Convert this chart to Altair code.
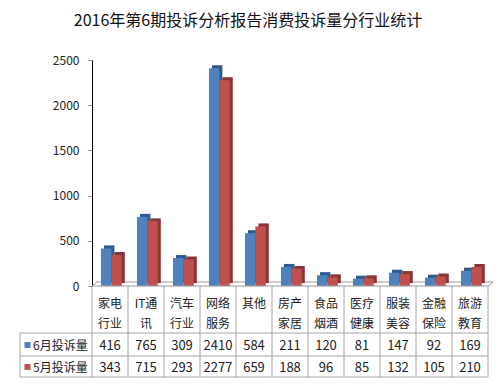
import altair as alt
import pandas as pd

categories = ["家电行业", "IT通讯", "汽车行业", "网络服务", "其他", "房产家居",
              "食品烟酒", "医疗健康", "服装美容", "金融保险", "旅游教育"]
cat_labels = ["家电\n行业", "IT通\n讯", "汽车\n行业", "网络\n服务", "其他", "房产\n家居",
              "食品\n烟酒", "医疗\n健康", "服装\n美容", "金融\n保险", "旅游\n教育"]
series = ["6月投诉量", "5月投诉量"]
june = [416, 765, 309, 2410, 584, 211, 120, 81, 147, 92, 169]
may = [343, 715, 293, 2277, 659, 188, 96, 85, 132, 105, 210]
y_ticks = [0, 500, 1000, 1500, 2000, 2500]
colors = ["#4F81BD", "#C0504D"]
shades = ["#2F5A8E", "#8A3533"]
title_text = "2016年第6期投诉分析报告消费投诉量分行业统计"

rows = []
for i, c in enumerate(categories):
    for s, vals, col, sh in zip(series, [june, may], colors, shades):
        rows.append({"cat": c, "series": s, "value": vals[i], "color": col, "shade": sh})
df = pd.DataFrame(rows)
cat_df = pd.DataFrame({"cat": categories, "label": cat_labels})
ser_df = pd.DataFrame({"series": series, "color": colors})

W, H = 396, 226
FONT = "Noto Sans CJK SC"
CAT_Y = 244
ROW_Y = [286, 308]
LINE_Y = [273, 296, 317]
LEFT = -72
GRID = "#A6A6A6"

x = alt.X("cat:N", sort=categories, axis=None,
          scale=alt.Scale(paddingInner=0, paddingOuter=0))
y = alt.Y("value:Q", title=None,
          scale=alt.Scale(domain=[0, 2500], nice=False),
          axis=alt.Axis(values=y_ticks, grid=False, domainColor="#000000", format="d",
                        tickColor="#888888", tickSize=4, labelPadding=9,
                        labelFont=FONT, labelFontSize=12, labelColor="#222222"))

base = alt.Chart(df)
shade = base.mark_bar(yOffset=-3, y2Offset=-3).encode(
    x=x,
    xOffset=alt.XOffset("series:N", sort=series,
                        scale=alt.Scale(domain=series, paddingInner=0,
                                        paddingOuter=0.73, align=0.79)),
    y=y, color=alt.Color("shade:N", scale=None))
bars = base.mark_bar().encode(
    x=x,
    xOffset=alt.XOffset("series:N", sort=series,
                        scale=alt.Scale(domain=series, paddingInner=0,
                                        paddingOuter=0.73, align=0.59)),
    y=y, color=alt.Color("color:N", scale=None))
bar_layer = alt.layer(shade, bars).resolve_scale(xOffset="independent")

one = cat_df.head(1)
floor_fill = alt.Chart(one).mark_area(color="#F2F2F2", opacity=1).encode(
    x=alt.value(3), x2=alt.value(W + 3), y=alt.value(H - 4), y2=alt.value(H))
floor_front = alt.Chart(one).mark_rule(color="#9A9A9A", strokeWidth=1).encode(
    x=alt.value(0), x2=alt.value(W), y=alt.datum(0))
floor_back = alt.Chart(one).mark_rule(color="#9A9A9A", strokeWidth=1).encode(
    x=alt.value(5), x2=alt.value(W + 5), y=alt.value(H - 4))
floor_l = alt.Chart(one).mark_rule(color="#9A9A9A", strokeWidth=1).encode(
    x=alt.value(0), x2=alt.value(5), y=alt.value(H), y2=alt.value(H - 4))
floor_r = alt.Chart(one).mark_rule(color="#9A9A9A", strokeWidth=1).encode(
    x=alt.value(W), x2=alt.value(W + 5), y=alt.value(H), y2=alt.value(H - 4))

vlines = alt.Chart(cat_df).mark_rule(color=GRID, strokeWidth=1).encode(
    x=alt.X("cat:N", sort=categories, bandPosition=0),
    y=alt.value(H), y2=alt.value(LINE_Y[2]))
right_line = alt.Chart(one).mark_rule(color=GRID, strokeWidth=1).encode(
    x=alt.value(W), y=alt.value(H), y2=alt.value(LINE_Y[2]))
left_line = alt.Chart(one).mark_rule(color=GRID, strokeWidth=1).encode(
    x=alt.value(LEFT), y=alt.value(LINE_Y[0]), y2=alt.value(LINE_Y[2]))
hlines = [
    alt.Chart(one).mark_rule(color=GRID, strokeWidth=1).encode(
        x=alt.value(LEFT), x2=alt.value(W), y=alt.value(ly))
    for ly in LINE_Y
]

cat_text = alt.Chart(cat_df).mark_text(
    font=FONT, fontSize=12, color="#222222", baseline="middle",
    lineBreak="\n", lineHeight=20).encode(
    x=alt.X("cat:N", sort=categories, bandPosition=0.5),
    y=alt.value(CAT_Y), text="label:N")

num_layers = []
for s, ry in zip(series, ROW_Y):
    num_layers.append(
        base.transform_filter(alt.datum.series == s).mark_text(
            font=FONT, fontSize=13, color="#222222", baseline="middle").encode(
            x=alt.X("cat:N", sort=categories, bandPosition=0.5),
            y=alt.value(ry), text="value:Q"))
    sdf = ser_df[ser_df.series == s]
    num_layers.append(
        alt.Chart(sdf).mark_square(size=36, opacity=1).encode(
            x=alt.value(-64.5), y=alt.value(ry - 1),
            color=alt.Color("color:N", scale=None)))
    num_layers.append(
        alt.Chart(sdf).mark_text(font=FONT, fontSize=12, color="#222222",
                                 align="left", baseline="middle").encode(
            x=alt.value(-59), y=alt.value(ry), text="series:N"))

title = alt.Chart(pd.DataFrame({"t": [title_text]})).mark_text(
    font=FONT, fontSize=16, color="#111111", align="center", baseline="middle").encode(
    x=alt.value(156), y=alt.value(-39), text="t:N")

chart = alt.layer(
    floor_fill, floor_back, floor_l, floor_r, bar_layer, floor_front,
    vlines, right_line, left_line, *hlines,
    cat_text, *num_layers, title
).properties(
    width=W, height=H,
    autosize=alt.AutoSizeParams(type="none"),
    padding={"left": 84, "top": 52, "right": 6, "bottom": 92},
    background="white",
).configure_view(stroke=None)

chart.save("out.html", embed_options={"renderer": "svg", "actions": False})
